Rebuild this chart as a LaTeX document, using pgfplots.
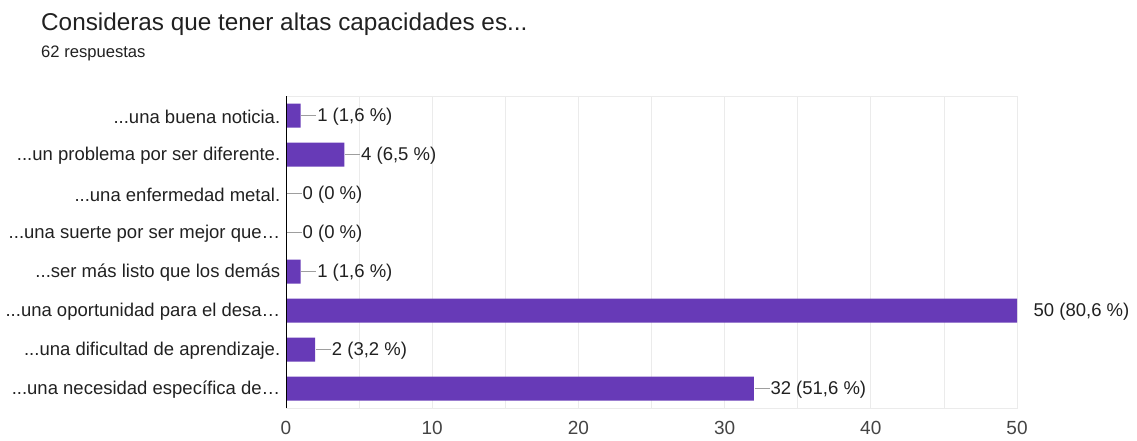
\documentclass[border=0pt]{standalone}
\usepackage{pgfplots}
\pgfplotsset{compat=1.18}
\usepackage{fontspec}
\setmainfont{Liberation Sans}
\definecolor{barpurple}{HTML}{673AB7}
\definecolor{txt}{HTML}{212121}
\definecolor{ticktxt}{HTML}{444444}
\definecolor{gridc}{HTML}{EBEBEB}
\definecolor{leadc}{HTML}{9E9E9E}
\newcommand{\lead}{\textcolor{leadc}{\rule[0.3em]{15pt}{0.9pt}}\hspace{1pt}}
\newcommand{\ddd}{.{}.{}.}
\begin{document}
\begin{tikzpicture}
\path[use as bounding box] (0,0) rectangle (1137pt,440pt);
\node[anchor=base west, inner sep=0pt, text=txt] at (41pt,409pt) {\fontsize{24.3}{28}\selectfont Consideras que tener altas capacidades es\ddd};
\node[anchor=base west, inner sep=0pt, text=txt] at (41pt,382pt) {\fontsize{16.6}{20}\selectfont 62 respuestas};
\begin{axis}[
  at={(286pt,32pt)}, anchor=south west,
  scale only axis, width=731pt, height=312pt,
  xbar, bar width=24pt,
  xmin=0, xmax=50, ymin=-0.5, ymax=7.5,
  y dir=reverse,
  xtick={0,10,20,30,40,50},
  minor xtick={5,15,25,35,45},
  ytick={0,1,2,3,4,5,6,7},
  yticklabels={{\ddd una buena noticia.},{\ddd un problema por ser diferente.},{\ddd una enfermedad metal.},{\ddd una suerte por ser mejor que…},{\ddd ser más listo que los demás},{\ddd una oportunidad para el desa…},{\ddd una dificultad de aprendizaje.},{\ddd una necesidad específica de…}},
  xmajorgrids, xminorgrids,
  major grid style={gridc, line width=0.8pt},
  minor grid style={gridc, line width=0.8pt},
  axis line style={gridc, line width=0.8pt},
  tick style={draw=none},
  /pgf/number format/assume math mode=true,
  xticklabel style={font=\fontsize{19}{22}\selectfont, text=ticktxt, yshift=-10pt},
  yticklabel style={font=\fontsize{18.5}{22}\selectfont, text=txt, xshift=2pt, yshift=-1pt},
  point meta=explicit symbolic,
  nodes near coords,
  every node near coord/.append style={anchor=west, inner sep=0pt, font=\fontsize{18.5}{22}\selectfont, text=txt, xshift=0.5pt, yshift=-1.5pt},
  clip=false,
]
\addplot[fill=barpurple, draw=none] coordinates {
  (1,0) [\lead 1 (1,6 \%)]
  (4,1) [\lead 4 (6,5 \%)]
  (0,2) [\lead 0 (0 \%)]
  (0,3) [\lead 0 (0 \%)]
  (1,4) [\lead 1 (1,6 \%)]
  (50,5) [\hspace{16pt}50 (80,6 \%)]
  (2,6) [\lead 2 (3,2 \%)]
  (32,7) [\lead 32 (51,6 \%)]
};
\draw[black, line width=0.9pt] (axis cs:0,-0.5) -- (axis cs:0,7.5);
\end{axis}
\end{tikzpicture}
\end{document}
